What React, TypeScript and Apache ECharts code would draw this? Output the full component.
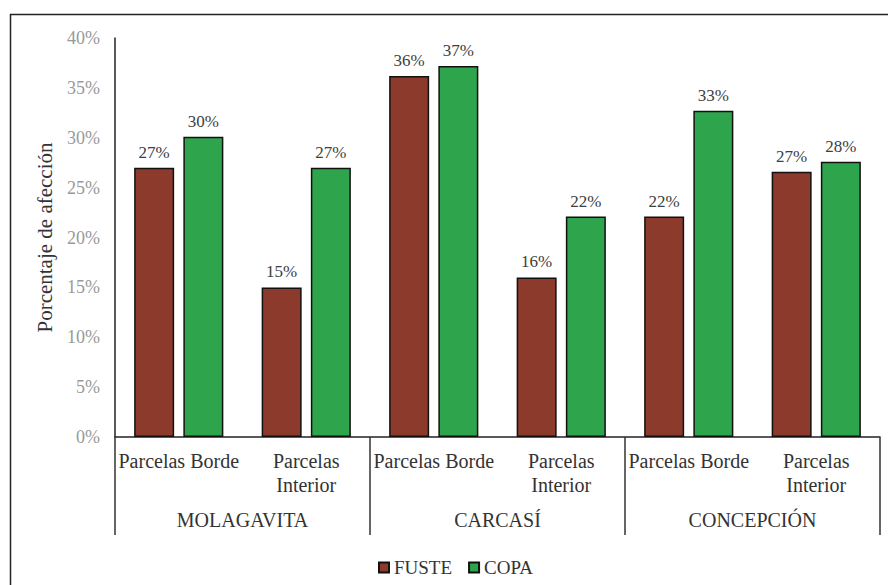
import React, { useEffect, useRef } from "react";
import * as echarts from "echarts";

// Parcel types shown under each municipality
const parcelLabels = [
  "Parcelas Borde",
  "Parcelas\nInterior",
  "Parcelas Borde",
  "Parcelas\nInterior",
  "Parcelas Borde",
  "Parcelas\nInterior",
];
const municipalities = ["MOLAGAVITA", "CARCASÍ", "CONCEPCIÓN"];

// Share of affected trees (fraction of 1)
const fusteValues = [0.27, 0.15, 0.362, 0.16, 0.221, 0.266];
const copaValues = [0.301, 0.27, 0.372, 0.221, 0.327, 0.276];

const yTicks = { min: 0, max: 0.4, interval: 0.05 };

const FONT = "Liberation Serif";
const pct = (v: number) => `${Math.round(v * 100)}%`;

export default function App() {
  const ref = useRef<HTMLDivElement>(null);

  useEffect(() => {
    document.body.style.margin = "0";
    if (!ref.current) return;
    const chart = echarts.init(ref.current, undefined, { renderer: "svg" });

    const labelStyle = {
      show: true,
      position: "top" as const,
      distance: 7,
      fontFamily: FONT,
      fontSize: 17,
      color: "#404040",
      formatter: (p: any) => pct(p.value),
    };

    chart.setOption({
      animation: false,
      backgroundColor: "#ffffff",
      textStyle: { fontFamily: FONT },
      grid: { left: 115, right: 8, top: 38, bottom: 148, containLabel: false },
      legend: {
        data: ["FUSTE", "COPA"],
        left: 373,
        top: 553,
        icon: "rect",
        itemWidth: 10,
        itemHeight: 10,
        itemGap: 16,
        textStyle: { fontFamily: FONT, fontSize: 19, color: "#333", padding: [0, 0, 0, 0] },
      },
      xAxis: [
        {
          type: "category",
          data: parcelLabels,
          position: "bottom",
          axisLine: { show: true, lineStyle: { color: "#222", width: 1.5 } },
          axisTick: { show: false },
          axisLabel: {
            interval: 0,
            margin: 12,
            fontFamily: FONT,
            fontSize: 20,
            lineHeight: 24,
            color: "#333",
          },
        },
        {
          type: "category",
          data: municipalities,
          position: "bottom",
          axisLine: { show: false },
          axisTick: {
            show: true,
            length: 98,
            lineStyle: { color: "#333", width: 1.5 },
          },
          axisLabel: {
            interval: 0,
            margin: 73,
            fontFamily: FONT,
            fontSize: 20,
            color: "#333",
          },
        },
      ],
      yAxis: {
        type: "value",
        min: yTicks.min,
        max: yTicks.max,
        interval: yTicks.interval,
        name: "Porcentaje de afección",
        nameLocation: "middle",
        nameGap: 60,
        nameTextStyle: { fontFamily: FONT, fontSize: 21, color: "#333" },
        axisLine: { show: true, lineStyle: { color: "#222", width: 1.5 } },
        axisTick: { show: false },
        splitLine: { show: false },
        axisLabel: {
          margin: 15,
          fontFamily: FONT,
          fontSize: 18,
          color: "#999",
          formatter: (v: number) => pct(v),
        },
      },
      series: [
        {
          name: "FUSTE",
          type: "bar",
          data: fusteValues,
          barWidth: 40,
          barGap: "23%",
          itemStyle: { color: "#8b3a2c", borderColor: "#111", borderWidth: 1.5 },
          label: labelStyle,
        },
        {
          name: "COPA",
          type: "bar",
          data: copaValues,
          barWidth: 40,
          itemStyle: { color: "#2ea44c", borderColor: "#111", borderWidth: 1.5 },
          label: labelStyle,
        },
      ],
      graphic: [
        {
          type: "rect",
          silent: true,
          shape: { x: 10.5, y: 14.5, width: 900, height: 600 },
          style: { fill: "none", stroke: "#222", lineWidth: 1.5 },
        },
      ],
    });

    return () => chart.dispose();
  }, []);

  return <div ref={ref} style={{ width: 888, height: 585 }} />;
}
